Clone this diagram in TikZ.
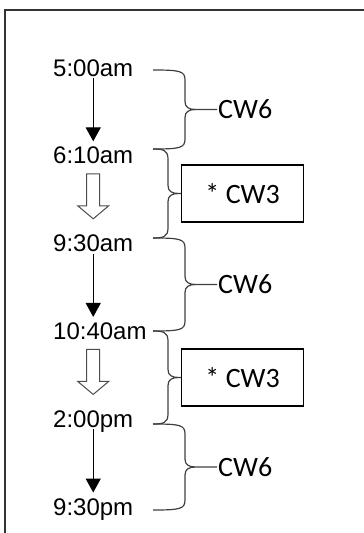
\documentclass[tikz,border=0pt]{standalone}
\usepackage{fontspec}
\setmainfont{Liberation Sans}
\newfontfamily\cwfont{Carlito}
\usepackage{tikz}
\usetikzlibrary{arrows.meta,calc}

\begin{document}
\begin{tikzpicture}[x=1pt,y=-1pt]
\tikzstyle{time}=[anchor=base west,inner sep=0,font=\fontsize{24}{28}\selectfont]
\tikzstyle{timearrow}=[line width=1.3pt,-{Triangle[width=15pt,length=14pt]},shorten <=2pt,shorten >=5.5pt]
\tikzstyle{hollow}=[line width=1pt,draw=black!70,fill=white,line join=miter]
\tikzstyle{brace}=[line width=1.2pt,black!75]
\tikzstyle{cwtext}=[anchor=west,inner sep=1pt,font=\cwfont\fontsize{28}{32}\selectfont]
\tikzstyle{cwbox}=[anchor=west,draw,line width=1.3pt,minimum width=122pt,minimum height=57pt,inner sep=0,font=\cwfont\fontsize{28}{32}\selectfont]
\useasboundingbox (0,0) rectangle (364,533);
\draw[line width=1.5pt,black!80] (5,533) -- (5,10) -- (364,10);
% times
\foreach \n/\y/\t in {t1/76/5:00am,t2/163.8/6:10am,t3/251.6/9:30am,t4/339.4/10:40am,t5/427.2/2:00pm,t6/515/9:30pm}{
\node[time] (\n) at (53,\y) {\t};
};
\foreach \a/\b in {t1/t2,t3/t4,t5/t6}{
\draw[timearrow] (\a.base) -- (\a.base |- \b.north);
};
\foreach \a/\b in {t2/t3,t4/t5}{
\draw[hollow] ($(\b.base |- \a.base)+(-6.5,10)$) -- ++(0,32) -- ++(-9,0) -- ++(15.5,13) -- ++(15.5,-13) -- ++(-9,0) -- ++(0,-32) -- cycle;
};
% braces
\foreach \ya/\yb/\xs/\xn/\n/\s/\t in {70/149/185/217/c1/cwtext/CW6,149/238/168/181/c2/cwbox/* CW3,238/331/185/217/c3/cwtext/CW6,331/424/168/181/c4/cwbox/* CW3,424/510/185/217/c5/cwtext/CW6}{
\pgfmathsetmacro\ym{(\ya+\yb)/2}
\node[\s] (\n) at (\xn,\ym) {\t};
\draw[brace] (153,\ya) .. controls (\xs-5,\ya) and (\xs,\ya+1) .. (\xs,\ya+10) -- (\xs,\ym-8) .. controls (\xs,\ym-2) and (\xs+4,\ym) .. (\xs+11,\ym) -- (\n.west)
 (153,\yb) .. controls (\xs-5,\yb) and (\xs,\yb-1) .. (\xs,\yb-10) -- (\xs,\ym+8) .. controls (\xs,\ym+2) and (\xs+4,\ym) .. (\xs+11,\ym);
};
\end{tikzpicture}
\end{document}
